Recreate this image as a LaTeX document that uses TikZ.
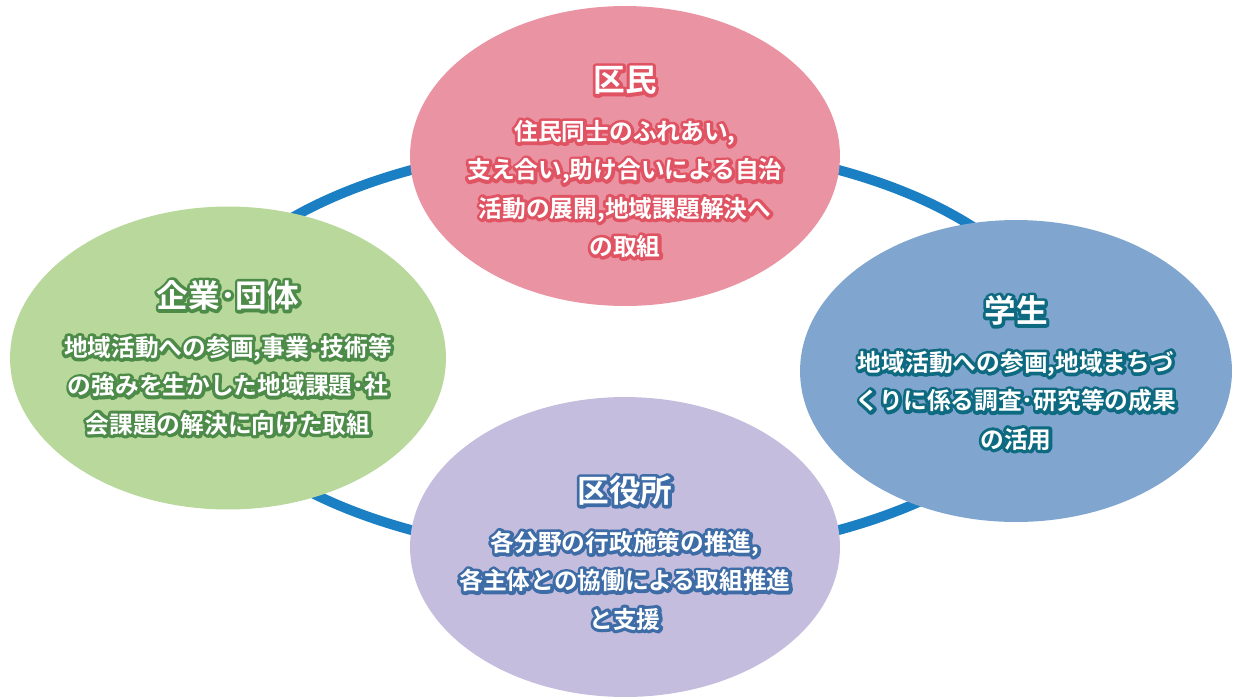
\documentclass[tikz,border=0pt]{standalone}
\usepackage{fontspec}
\setmainfont{Noto Sans CJK JP}[BoldFont={Noto Sans CJK JP Bold}]
\usepackage{tikz}
\usetikzlibrary{shapes.geometric}

\definecolor{ringblue}{HTML}{1A7FC3}
\definecolor{kuminfill}{HTML}{EA93A2}
\definecolor{kuminedge}{HTML}{E05363}
\definecolor{kigyofill}{HTML}{B8D89C}
\definecolor{kigyoedge}{HTML}{4D8B48}
\definecolor{gakuseifill}{HTML}{80A6CF}
\definecolor{gakuseiedge}{HTML}{0D6A80}
\definecolor{kuyakufill}{HTML}{C5BDDD}
\definecolor{kuyakuedge}{HTML}{3E6CA6}

% white letters with a coloured rim
\newcommand{\olin}[2]{\leavevmode\rlap{\textcolor{#1}{\special{pdf:literal direct 2 Tr 3.6 w 1 J 1 j}#2\special{pdf:literal direct 0 Tr}}}\textcolor{white}{#2}}

\begin{document}
\begin{tikzpicture}[x=0.02cm,y=-0.02cm,
    blob/.style={ellipse, inner sep=0pt, draw=none},
    txt/.style={text=white, align=center, inner sep=0pt,
      font=\bfseries\fontsize{13.5}{21.8}\selectfont}]
    \useasboundingbox (0,0) rectangle (1233,698);
    % ring behind the four groups
    \node[ellipse, draw=ringblue, line width=5.6pt, minimum width=17.32cm,
      minimum height=8.28cm] (ring) at (625,350) {};

    \node[blob, fill=kuminfill, minimum width=8.6cm, minimum height=6cm] (kumin) at (625,156) {};
    \node[blob, fill=kigyofill, minimum width=8.72cm, minimum height=6.06cm] (kigyo) at (228,358) {};
    \node[blob, fill=gakuseifill, minimum width=8.64cm, minimum height=6.04cm] (gakusei) at (1016,371) {};
    \node[blob, fill=kuyakufill, minimum width=8.6cm, minimum height=6cm] (kuyaku) at (625,547) {};

    \node[txt] (kumin-txt) at (625,162)
      {{\fontsize{18}{24}\selectfont\olin{kuminedge}{区民}}\\[6pt]
       \olin{kuminedge}{住民同士のふれあい,}\\
       \olin{kuminedge}{支え合い,助け合いによる自治}\\
       \olin{kuminedge}{活動の展開,地域課題解決へ}\\
       \olin{kuminedge}{の取組}};
    \node[txt] (kigyo-txt) at (228,358)
      {{\fontsize{18}{24}\selectfont\olin{kigyoedge}{企業･団体}}\\[6pt]
       \olin{kigyoedge}{地域活動への参画,事業･技術等}\\
       \olin{kigyoedge}{の強みを生かした地域課題･社}\\
       \olin{kigyoedge}{会課題の解決に向けた取組}};
    \node[txt] (gakusei-txt) at (1016,373)
      {{\fontsize{18}{24}\selectfont\olin{gakuseiedge}{学生}}\\[6pt]
       \olin{gakuseiedge}{地域活動への参画,地域まちづ}\\
       \olin{gakuseiedge}{くりに係る調査･研究等の成果}\\
       \olin{gakuseiedge}{の活用}};
    \node[txt] (kuyaku-txt) at (625,553)
      {{\fontsize{18}{24}\selectfont\olin{kuyakuedge}{区役所}}\\[6pt]
       \olin{kuyakuedge}{各分野の行政施策の推進,}\\
       \olin{kuyakuedge}{各主体との協働による取組推進}\\
       \olin{kuyakuedge}{と支援}};
\end{tikzpicture}
\end{document}
